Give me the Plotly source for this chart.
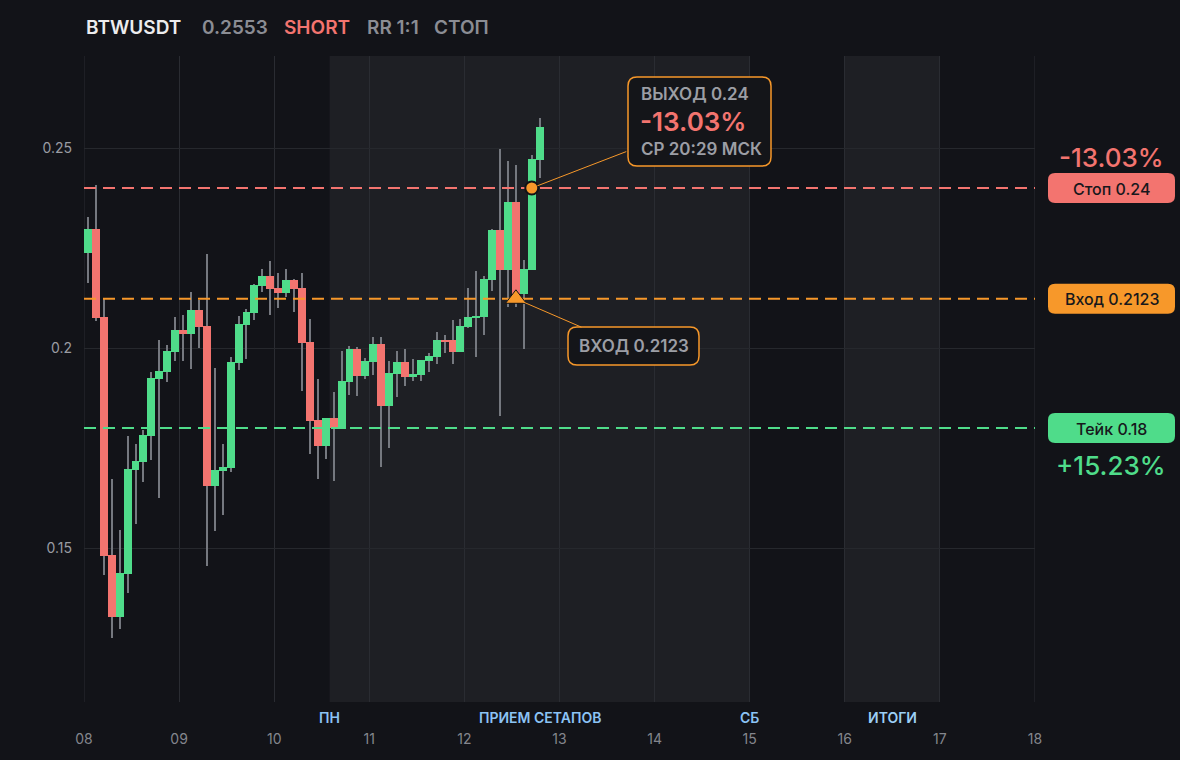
import pandas as pd
import plotly.graph_objects as go

# 2h candles, BTWUSDT
open_ = [0.2238, 0.2298, 0.2078, 0.1483, 0.1328, 0.1436, 0.1696, 0.1716, 0.1781, 0.1923,
         0.1941, 0.1991, 0.2045, 0.2036, 0.2095, 0.2055, 0.1656, 0.1693, 0.1700, 0.1963,
         0.2058, 0.2088, 0.2155, 0.2180, 0.2150, 0.2138, 0.2170, 0.2150, 0.2015, 0.1820,
         0.1755, 0.1825, 0.1798, 0.1915, 0.1998, 0.1930, 0.1965, 0.2010, 0.1855, 0.1935,
         0.1965, 0.1928, 0.1933, 0.1968, 0.1978, 0.2020, 0.2020, 0.1990, 0.2053, 0.2075,
         0.2078, 0.2170, 0.2295, 0.2195, 0.2365, 0.2135, 0.2195, 0.2470]
high = [0.2328, 0.2408, 0.2123, 0.1673, 0.1545, 0.1780, 0.1760, 0.1795, 0.1940, 0.2020,
        0.2008, 0.2078, 0.2083, 0.2140, 0.2120, 0.2235, 0.1950, 0.1760, 0.1978, 0.2080,
        0.2098, 0.2160, 0.2198, 0.2218, 0.2188, 0.2198, 0.2173, 0.2188, 0.2073, 0.1923,
        0.1825, 0.1890, 0.1993, 0.2005, 0.2003, 0.1975, 0.2028, 0.2028, 0.1968, 0.1993,
        0.1998, 0.1973, 0.1970, 0.1988, 0.2040, 0.2033, 0.2070, 0.2073, 0.2150, 0.2193,
        0.2180, 0.2298, 0.2498, 0.2468, 0.2458, 0.2220, 0.2483, 0.2575]
low = [0.2163, 0.2068, 0.1432, 0.1275, 0.1298, 0.1388, 0.1561, 0.1666, 0.1721, 0.1626,
       0.1916, 0.1968, 0.1968, 0.1948, 0.2001, 0.1456, 0.1543, 0.1583, 0.1690, 0.1945,
       0.1973, 0.2070, 0.2140, 0.2083, 0.2100, 0.2128, 0.2090, 0.1893, 0.1735, 0.1673,
       0.1723, 0.1668, 0.1798, 0.1883, 0.1880, 0.1923, 0.1933, 0.1703, 0.1750, 0.1878,
       0.1905, 0.1918, 0.1918, 0.1940, 0.1960, 0.1988, 0.1960, 0.1990, 0.2050, 0.1978,
       0.2033, 0.2143, 0.1830, 0.2103, 0.2103, 0.1998, 0.2195, 0.2425]
close = [0.2298, 0.2076, 0.1481, 0.1328, 0.1437, 0.1698, 0.1718, 0.1783, 0.1925, 0.1943,
         0.1993, 0.2045, 0.2036, 0.2095, 0.2053, 0.1656, 0.1695, 0.1703, 0.1965, 0.2060,
         0.2090, 0.2158, 0.2180, 0.2148, 0.2138, 0.2170, 0.2148, 0.2013, 0.1818, 0.1755,
         0.1825, 0.1800, 0.1918, 0.1998, 0.1930, 0.1968, 0.2010, 0.1855, 0.1938, 0.1965,
         0.1928, 0.1935, 0.1970, 0.1980, 0.2020, 0.2015, 0.1990, 0.2055, 0.2078, 0.2080,
         0.2173, 0.2295, 0.2195, 0.2365, 0.2135, 0.2198, 0.2473, 0.2553]

times = pd.date_range("2025-11-08 01:00", periods=len(open_), freq="2h")

stop_price = 0.24
entry_price = 0.2123
take_price = 0.18
entry_idx = 54
exit_idx = 56

# sessions (shaded)
sessions = [("2025-11-10 14:00", "2025-11-15 00:00"), ("2025-11-16 00:00", "2025-11-17 00:00")]
session_labels = [("2025-11-10 14:00", "ПН"), ("2025-11-12 19:00", "ПРИЕМ СЕТАПОВ"),
                  ("2025-11-15 00:00", "СБ"), ("2025-11-16 12:00", "ИТОГИ")]

x_range = ["2025-11-08", "2025-11-18"]
y_range = [0.1115, 0.273]
y_ticks = [0.15, 0.2, 0.25]
y_ticktext = ["0.15", "0.2", "0.25"]

GREEN = "#4fdc8a"
RED = "#f3746f"
ORANGE = "#f7982a"
GRAY = "#8b8d94"
BG = "#121318"
SHADE = "#1e1f24"
GRID = "#2a2c32"
FONT = "Inter"

# plot box in pixels
L, T, R, B = 84, 56, 1035, 702
W, H = R - L, B - T


def pxx(p):
    return (p - L) / W


def pxy(p):
    return (B - p) / H


def val_py(v):
    return T + (y_range[1] - v) / (y_range[1] - y_range[0]) * H


def rounded(x0, y0, x1, y1, r):
    pts = [("M", x0 + r, y0), ("L", x1 - r, y0), ("Q", x1, y0, x1, y0 + r),
           ("L", x1, y1 - r), ("Q", x1, y1, x1 - r, y1), ("L", x0 + r, y1),
           ("Q", x0, y1, x0, y1 - r), ("L", x0, y0 + r), ("Q", x0, y0, x0 + r, y0)]
    s = ""
    for p in pts:
        nums = p[1:]
        seg = ["%.5f,%.5f" % (pxx(nums[i]), pxy(nums[i + 1])) for i in range(0, len(nums), 2)]
        s += p[0] + " " + " ".join(seg) + " "
    return s + "Z"


def label(x, y, txt, size, col, weight=600, anchor="center"):
    return dict(xref="paper", yref="paper", x=pxx(x), y=pxy(y), xanchor=anchor,
                yanchor="middle", text=txt, showarrow=False,
                font=dict(family=FONT, size=size, color=col, weight=weight))


colors = [GREEN if c >= o else RED for o, c in zip(open_, close)]
step_ms = 2 * 3600 * 1000

fig = go.Figure()

# wicks
fig.add_bar(x=times, base=low, y=[h - l for h, l in zip(high, low)],
            width=step_ms / 8, marker=dict(color="#75787f", line_width=0),
            hoverinfo="skip", showlegend=False)
# bodies
fig.add_bar(x=times, base=[min(o, c) for o, c in zip(open_, close)],
            y=[max(abs(c - o), 0.0004) for o, c in zip(open_, close)],
            width=step_ms, marker=dict(color=colors, line_width=0),
            showlegend=False)

# stop / entry / take levels
for v, col in [(stop_price, RED), (entry_price, ORANGE), (take_price, GREEN)]:
    fig.add_scatter(x=x_range, y=[v, v], mode="lines",
                    line=dict(color=col, width=2, dash="12px,7px"),
                    cliponaxis=False, showlegend=False)

fig.add_scatter(x=[times[entry_idx]], y=[entry_price], mode="markers",
                marker=dict(symbol="triangle-up", size=18, color=ORANGE,
                            line=dict(color="#111216", width=1)),
                showlegend=False)
fig.add_scatter(x=[times[exit_idx]], y=[stop_price], mode="markers",
                marker=dict(symbol="circle", size=13, color=ORANGE,
                            line=dict(color="#111216", width=2)),
                showlegend=False)

shapes = []
for a, b in sessions:
    shapes.append(dict(type="rect", xref="x", yref="paper", x0=a, x1=b, y0=0, y1=1,
                       fillcolor=SHADE, line_width=0, layer="below"))
# edge day lines (08 and 18)
for x in x_range:
    shapes.append(dict(type="line", xref="x", yref="paper", x0=x, x1=x, y0=0, y1=1,
                       line=dict(color=GRID, width=1), layer="below"))

ann = []
# right side pills
pills = [(stop_price, RED, "Стоп 0.24"), (entry_price, ORANGE, "Вход 0.2123"),
         (take_price, GREEN, "Тейк 0.18")]
for v, col, txt in pills:
    cy = val_py(v)
    shapes.append(dict(type="path", xref="paper", yref="paper",
                       path=rounded(1048, cy - 15, 1175, cy + 15, 7),
                       fillcolor=col, line_width=0))
    ann.append(label(1111.5, cy + 0.5, txt, 16, "#17181c", 500))

ann.append(label(1111, val_py(stop_price) - 31, "-13.03%", 26, RED, 500))
ann.append(label(1111, val_py(take_price) + 37, "+15.23%", 26, GREEN, 500))

# exit box
shapes.append(dict(type="path", xref="paper", yref="paper",
                   path=rounded(628, 77, 771, 166, 9), fillcolor="#141519",
                   line=dict(color=ORANGE, width=1.5)))
ann.append(label(639, 94, "ВЫХОД 0.24", 17, "#9c9ea5", 600, "left"))
ann.append(label(638, 122, "-13.03%", 26, RED, 600, "left"))
ann.append(label(639, 149, "СР 20:29 МСК", 17, "#9c9ea5", 600, "left"))
ann.append(dict(x=times[exit_idx], y=stop_price, text="", showarrow=True, arrowhead=0,
                arrowwidth=1, arrowcolor=ORANGE, ax=96, ay=-37, standoff=6))

# entry box
shapes.append(dict(type="path", xref="paper", yref="paper",
                   path=rounded(568, 327, 699, 365, 9), fillcolor="#141519",
                   line=dict(color=ORANGE, width=1.5)))
ann.append(label(633.5, 346, "ВХОД 0.2123", 17, "#9c9ea5", 600))
ann.append(dict(x=times[entry_idx], y=entry_price, text="", showarrow=True, arrowhead=0,
                arrowwidth=1, arrowcolor=ORANGE, ax=67, ay=29, standoff=7))

# session labels under the plot
for x, txt in session_labels:
    ann.append(dict(xref="x", yref="paper", x=x, y=pxy(717), xanchor="center", yanchor="middle",
                    text=txt, showarrow=False,
                    font=dict(family=FONT, size=14, color="#9ccff5" if txt == "ИТОГИ" else "#8cc3f5",
                              weight=600)))

# header
header = [(84, "BTWUSDT", "#ececee"), (200, "0.2553", GRAY), (282, "SHORT", RED),
          (365, "RR 1:1", GRAY), (432, "СТОП", GRAY)]
for x, txt, col in header:
    ann.append(label(x, 28, txt, 19, col, 600, "left"))

fig.update_layout(
    width=1180, height=760,
    margin=dict(l=L, r=1180 - R, t=T, b=760 - B),
    paper_bgcolor=BG, plot_bgcolor=BG,
    barmode="overlay", bargap=0,
    font=dict(family=FONT, color=GRAY),
    shapes=shapes, annotations=ann,
    hovermode=False,
)
fig.update_xaxes(type="date", range=x_range, dtick=86400000, tickformat="%d",
                 showgrid=True, gridcolor=GRID, gridwidth=1, zeroline=False,
                 showline=False, ticks="", ticklabelstandoff=27,
                 tickfont=dict(family=FONT, size=14, color="#84868d"))
fig.update_yaxes(range=y_range, tickvals=y_ticks, ticktext=y_ticktext,
                 showgrid=True, gridcolor="#26282d", gridwidth=1, zeroline=False,
                 showline=False, ticks="", ticklabelstandoff=11,
                 tickfont=dict(family=FONT, size=14, color="#9a9ca3"))

fig.write_html("out.html", config={"displayModeBar": False},
               post_script="document.body.style.margin='0';document.body.style.background='%s';" % BG)
